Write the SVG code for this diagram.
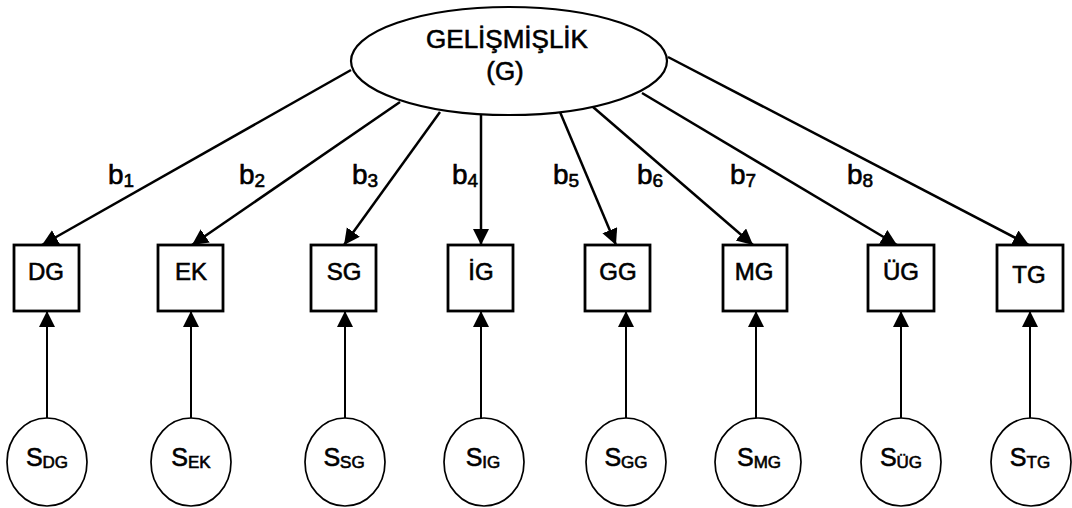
<svg xmlns="http://www.w3.org/2000/svg" width="1072" height="508" viewBox="0 0 1072 508">
<defs>
<marker id="ah" markerUnits="userSpaceOnUse" markerWidth="18" markerHeight="18" refX="16" refY="8" orient="auto">
<path d="M0,0 L16,8 L0,16 z" fill="#000"/>
</marker>
<style>
text{font-family:"Liberation Sans",Arial,sans-serif;fill:#000;stroke:#000;stroke-width:0.6}
.box{fill:#fff;stroke:#000;stroke-width:2.8}
.circ{fill:#fff;stroke:#000;stroke-width:1.7}
.main{fill:#fff;stroke:#000;stroke-width:2.2}
.bl{font-size:24px;text-anchor:middle}
.sl{font-size:25px;text-anchor:middle}
.sub{font-size:17px}
.lab{font-size:28px}
.lsub{font-size:19px}
.c line{stroke:#000;stroke-width:2.5;marker-end:url(#ah)}
.c line.v{stroke-width:2}
</style>
</defs>
<rect width="1072" height="508" fill="#fff"/>
<g id="connectors" class="c">
<line x1="351" y1="70" x2="42" y2="245"/>
<line x1="400" y1="102" x2="192" y2="245"/>
<line x1="440" y1="112" x2="344" y2="245"/>
<line x1="481" y1="115" x2="481" y2="245"/>
<line x1="560" y1="112" x2="616" y2="245"/>
<line x1="593" y1="107" x2="753" y2="245"/>
<line x1="642" y1="93" x2="897" y2="245"/>
<line x1="668" y1="57" x2="1029" y2="245"/>
<line class="v" x1="47" y1="418" x2="47" y2="311"/>
<line class="v" x1="191" y1="418" x2="191" y2="311"/>
<line class="v" x1="345" y1="418" x2="345" y2="311"/>
<line class="v" x1="481" y1="418" x2="481" y2="311"/>
<line class="v" x1="626" y1="418" x2="626" y2="311"/>
<line class="v" x1="756" y1="418" x2="756" y2="311"/>
<line class="v" x1="901" y1="418" x2="901" y2="311"/>
<line class="v" x1="1030" y1="418" x2="1030" y2="311"/>
</g>
<g id="labels">
<text class="lab" x="108" y="184">b<tspan class="lsub" dy="3">1</tspan></text>
<text class="lab" x="239" y="184">b<tspan class="lsub" dy="3">2</tspan></text>
<text class="lab" x="352" y="184">b<tspan class="lsub" dy="3">3</tspan></text>
<text class="lab" x="452" y="184">b<tspan class="lsub" dy="3">4</tspan></text>
<text class="lab" x="553" y="184">b<tspan class="lsub" dy="3">5</tspan></text>
<text class="lab" x="637" y="184">b<tspan class="lsub" dy="3">6</tspan></text>
<text class="lab" x="730" y="184">b<tspan class="lsub" dy="3">7</tspan></text>
<text class="lab" x="847" y="184">b<tspan class="lsub" dy="3">8</tspan></text>
</g>
<g id="G">
<ellipse class="main" cx="509" cy="61" rx="158" ry="54"/>
<text x="507" y="48" font-size="26" text-anchor="middle">GELİŞMİŞLİK</text>
<text x="505" y="80" font-size="26" text-anchor="middle">(G)</text>
</g>
<g id="DG"><rect class="box" x="14" y="245" width="65" height="66"/><text class="bl" x="46" y="280">DG</text></g>
<g id="EK"><rect class="box" x="158" y="245" width="65" height="66"/><text class="bl" x="191" y="280">EK</text></g>
<g id="SG"><rect class="box" x="311" y="245" width="65" height="66"/><text class="bl" x="344" y="280">SG</text></g>
<g id="IG"><rect class="box" x="448" y="245" width="65" height="66"/><text class="bl" x="481" y="280">İG</text></g>
<g id="GG"><rect class="box" x="585" y="245" width="65" height="66"/><text class="bl" x="618" y="280">GG</text></g>
<g id="MG"><rect class="box" x="723" y="245" width="64" height="66"/><text class="bl" x="754" y="280">MG</text></g>
<g id="UG"><rect class="box" x="868" y="245" width="66" height="66"/><text class="bl" x="901" y="280">ÜG</text></g>
<g id="TG"><rect class="box" x="997" y="245" width="66" height="66"/><text class="bl" x="1029" y="283" font-size="29">TG</text></g>
<g id="S_DG"><ellipse class="circ" cx="47" cy="462" rx="40" ry="44"/><text class="sl" x="47" y="466">S<tspan class="sub" dy="2">DG</tspan></text></g>
<g id="S_EK"><ellipse class="circ" cx="191" cy="462" rx="40" ry="44"/><text class="sl" x="191" y="466">S<tspan class="sub" dy="2">EK</tspan></text></g>
<g id="S_SG"><ellipse class="circ" cx="345" cy="462" rx="40" ry="44"/><text class="sl" x="344" y="466">S<tspan class="sub" dy="2">SG</tspan></text></g>
<g id="S_IG"><ellipse class="circ" cx="484" cy="462" rx="40" ry="44"/><text class="sl" x="483" y="466">S<tspan class="sub" dy="2">IG</tspan></text></g>
<g id="S_GG"><ellipse class="circ" cx="626" cy="462" rx="40" ry="44"/><text class="sl" x="626" y="466">S<tspan class="sub" dy="2">GG</tspan></text></g>
<g id="S_MG"><ellipse class="circ" cx="758" cy="462" rx="43" ry="44"/><text class="sl" x="759" y="466">S<tspan class="sub" dy="2">MG</tspan></text></g>
<g id="S_UG"><ellipse class="circ" cx="901" cy="462" rx="40" ry="44"/><text class="sl" x="901" y="466">S<tspan class="sub" dy="2">ÜG</tspan></text></g>
<g id="S_TG"><ellipse class="circ" cx="1031" cy="462" rx="40" ry="44"/><text class="sl" x="1030" y="466">S<tspan class="sub" dy="2">TG</tspan></text></g>
</svg>
